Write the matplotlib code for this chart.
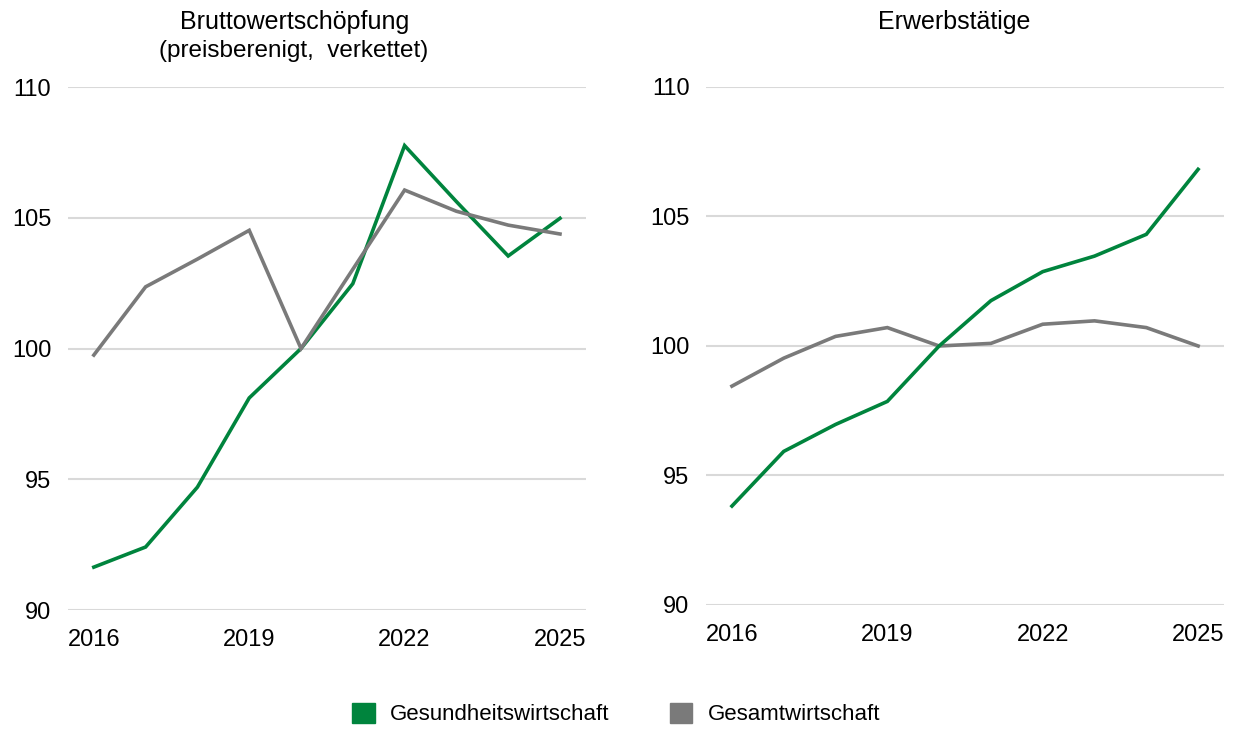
import matplotlib.pyplot as plt
from matplotlib.patches import Patch

plt.rcParams['font.family'] = ['Liberation Sans', 'DejaVu Sans']

years = [2016, 2017, 2018, 2019, 2020, 2021, 2022, 2023, 2024, 2025]

# Bruttowertschöpfung (preisbereinigt, verkettet), 2020 = 100
bws_gesundheit = [91.64, 92.41, 94.70, 98.11, 100.0, 102.48, 107.76, 105.62, 103.54, 104.98]
bws_gesamt = [99.75, 102.36, 103.42, 104.52, 100.0, 103.03, 106.06, 105.25, 104.72, 104.38]

# Erwerbstätige, 2020 = 100
erw_gesundheit = [93.82, 95.93, 96.97, 97.86, 100.0, 101.75, 102.87, 103.47, 104.31, 106.82]
erw_gesamt = [98.45, 99.53, 100.37, 100.71, 100.0, 100.10, 100.84, 100.97, 100.71, 100.0]

yticks = [90, 95, 100, 105, 110]
xticks = [2016, 2019, 2022, 2025]

green = '#00843d'
grey = '#7a7a7a'

fig = plt.figure(figsize=(12.35, 7.29), dpi=100)
ax1 = fig.add_axes([0.055, 0.1632, 0.4194, 0.7174])
ax2 = fig.add_axes([0.5717, 0.1701, 0.4194, 0.7106])


def style(ax):
    ax.set_xlim(2015.5, 2025.5)
    ax.set_ylim(90, 110)
    ax.set_yticks(yticks)
    ax.set_xticks(xticks)
    ax.grid(axis='y', color='#d9d9d9', lw=1.5)
    ax.set_axisbelow(True)
    for s in ax.spines.values():
        s.set_visible(False)
    ax.tick_params(axis='y', length=0, pad=12, labelsize=17)
    ax.tick_params(axis='x', length=0, pad=14, labelsize=17)


ax1.plot(years, bws_gesundheit, color=green, lw=2.6, solid_joinstyle='miter')
ax1.plot(years, bws_gesamt, color=grey, lw=2.6, solid_joinstyle='miter')
style(ax1)

ax2.plot(years, erw_gesamt, color=grey, lw=2.6, solid_joinstyle='miter')
ax2.plot(years, erw_gesundheit, color=green, lw=2.6, solid_joinstyle='miter')
style(ax2)

fig.text(295 / 1235, 1 - 22 / 729, 'Bruttowertschöpfung', ha='center', va='center', fontsize=18)
fig.text(294 / 1235, 1 - 51 / 729, '(preisberenigt,  verkettet)', ha='center', va='center', fontsize=17.5)
fig.text(954 / 1235, 1 - 22 / 729, 'Erwerbstätige', ha='center', va='center', fontsize=18)

handles = [Patch(color=green, label='Gesundheitswirtschaft'),
           Patch(color=grey, label='Gesamtwirtschaft')]
fig.legend(handles=handles, loc='center', bbox_to_anchor=(0.499, 1 - 714 / 729), ncol=2,
           frameon=False, fontsize=16, handlelength=1.0, handleheight=1.0,
           handletextpad=0.7, columnspacing=2.7)

fig.savefig('out.png', dpi=100)
